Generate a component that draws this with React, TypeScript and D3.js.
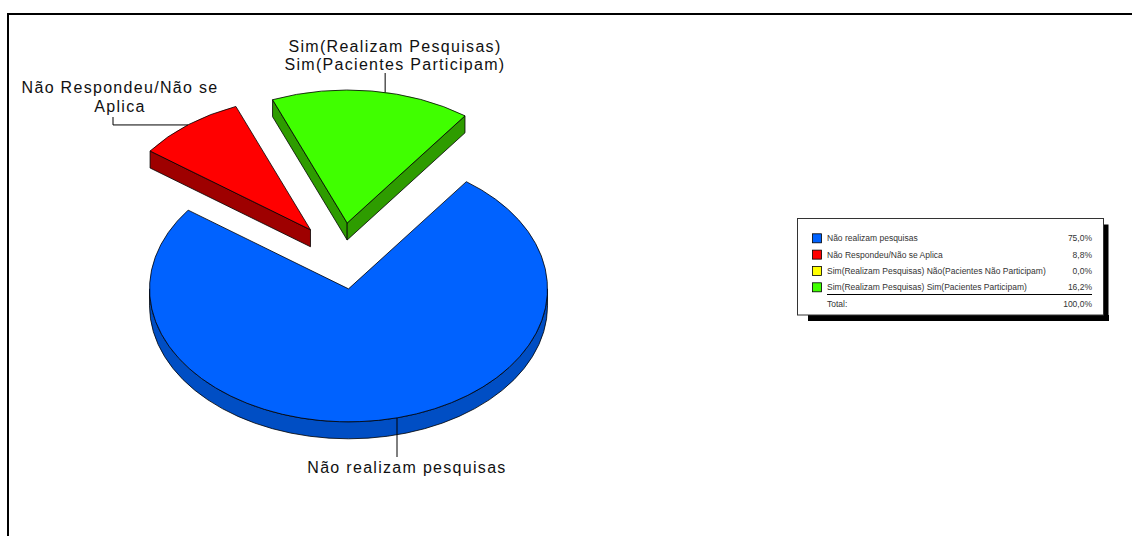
import React from 'react';
import * as d3 from 'd3';

const categories = [
  "Não realizam pesquisas",
  "Não Respondeu/Não se Aplica",
  "Sim(Realizam Pesquisas) Não(Pacientes Não Participam)",
  "Sim(Realizam Pesquisas) Sim(Pacientes Participam)"
];
const values = [75.0, 8.8, 0.0, 16.2];
const totalLabel = "Total:";
const topColors = ["#0062ff", "#ff0000", "#ffff00", "#40ff00"];
const sideColors = ["#004ec4", "#9e0000", "#a8a800", "#2e9c00"];
const explode = [0.25, 0.25, 0.25, 0.25];

// pie label text (lines) and leader hints
const pieLabels = [
  ["Não realizam pesquisas"],
  ["Não Respondeu/Não se", "Aplica"],
  [],
  ["Sim(Realizam Pesquisas)", "Sim(Pacientes Participam)"]
];
const labelPos = [[407, 473], [120, 93], [0, 0], [395, 51.5]];
const leaderAngle = [75.9, 232, 0, 281];
const leaderElbowX = [null, 113, null, null];
const leaderEndY = [457, 117, 0, 73];

const W = 1132, H = 536;
const cx = 341, cy = 256, rx = 199, ry = 133, depth = 17;
const rad = Math.PI / 180;

const ptFmt = d3.formatLocale({ decimal: ",", thousands: ".", grouping: [3], currency: ["", ""] }).format(".1f");

function P(ox: number, oy: number, t: number, dz = 0): [number, number] {
  return [ox + rx * Math.cos(t), oy + ry * Math.sin(t) + dz];
}
const f = (p: [number, number]) => `${p[0].toFixed(2)},${p[1].toFixed(2)}`;

const App = () => {
  const pie = d3.pie<number>().sort(null).value(d => d)
    .startAngle(36.3 * rad).endAngle(36.3 * rad + 2 * Math.PI);
  const arcs = pie(values);

  const slices = arcs.map((a, i) => {
    const t0 = a.startAngle - Math.PI / 2;
    const t1 = a.endAngle - Math.PI / 2;
    const tm = (t0 + t1) / 2;
    const ox = cx + explode[i] * rx * Math.cos(tm);
    const oy = cy + explode[i] * ry * Math.sin(tm);
    return { i, t0, t1, ox, oy, empty: a.endAngle - a.startAngle < 1e-6 };
  }).filter(s => !s.empty);

  // back to front
  const ordered = [...slices].sort((a, b) => a.oy - b.oy);

  const shapes: JSX.Element[] = [];
  ordered.forEach(s => {
    const { i, t0, t1, ox, oy } = s;
    const c: [number, number] = [ox, oy];
    const cb: [number, number] = [ox, oy + depth];
    const faces: string[] = [];
    if (Math.cos(t0) < 0) {
      faces.push(`M${f(c)}L${f(P(ox, oy, t0))}L${f(P(ox, oy, t0, depth))}L${f(cb)}Z`);
    }
    if (Math.cos(t1) > 0) {
      faces.push(`M${f(c)}L${f(P(ox, oy, t1))}L${f(P(ox, oy, t1, depth))}L${f(cb)}Z`);
    }
    for (let k = -1; k <= 2; k++) {
      const lo = Math.max(t0, 2 * Math.PI * k);
      const hi = Math.min(t1, 2 * Math.PI * k + Math.PI);
      if (hi > lo + 1e-6) {
        const large = hi - lo > Math.PI ? 1 : 0;
        faces.push(
          `M${f(P(ox, oy, lo))}A${rx},${ry} 0 ${large} 1 ${f(P(ox, oy, hi))}` +
          `L${f(P(ox, oy, hi, depth))}A${rx},${ry} 0 ${large} 0 ${f(P(ox, oy, lo, depth))}Z`
        );
      }
    }
    faces.forEach((d, j) => shapes.push(
      <path key={`s${i}-${j}`} d={d} fill={sideColors[i]} stroke="#000" strokeWidth={0.8} strokeLinejoin="round" />
    ));
    const large = t1 - t0 > Math.PI ? 1 : 0;
    shapes.push(
      <path key={`t${i}`}
        d={`M${f(c)}L${f(P(ox, oy, t0))}A${rx},${ry} 0 ${large} 1 ${f(P(ox, oy, t1))}Z`}
        fill={topColors[i]} stroke="#000" strokeWidth={0.8} strokeLinejoin="round" />
    );
  });

  const leaders = slices.map(s => {
    const i = s.i;
    const a = P(s.ox, s.oy, leaderAngle[i] * rad);
    const ex = leaderElbowX[i] ?? a[0];
    return <path key={`l${i}`} d={`M${f(a)}L${ex},${a[1]}L${ex},${leaderEndY[i]}`} fill="none" stroke="#000" strokeWidth={1} />;
  });

  const labels = slices.map(s => {
    const i = s.i;
    return (
      <text key={`lb${i}`} x={labelPos[i][0]} y={labelPos[i][1]} textAnchor="middle"
        fontSize={16} letterSpacing={1.3} fill="#111">
        {pieLabels[i].map((ln, j) => (
          <tspan key={j} x={labelPos[i][0]} dy={j === 0 ? 0 : 18.5}>{ln}</tspan>
        ))}
      </text>
    );
  });

  // legend
  const lx = 797.5, ly = 218.5, lw = 306, lh = 96.5;
  const rowY = d3.scalePoint<string>().domain(categories).range([238.3, 287.3]);
  const total = d3.sum(values);

  return (
    <svg width={W} height={H} style={{ position: 'absolute', left: 0, top: 0, background: '#fff' }}
      fontFamily="'Liberation Sans', Arial, sans-serif">
      <rect x={8} y={14} width={W + 100} height={H + 100} fill="none" stroke="#000" strokeWidth={2} />
      <g>{shapes}</g>
      <g>{leaders}</g>
      <g>{labels}</g>
      <g>
        <rect x={808} y={lh + ly} width={lw - 5} height={6} fill="#000" />
        <rect x={lx + lw} y={ly + 6} width={5} height={lh} fill="#000" />
        <rect x={lx} y={ly} width={lw} height={lh} fill="#fff" stroke="#333" strokeWidth={1} />
        {categories.map((c, i) => {
          const y = rowY(c)!;
          return (
            <g key={c}>
              <rect x={812.5} y={y - 4.5} width={9} height={9} fill={topColors[i]} stroke="#000" strokeWidth={0.8} />
              <text x={827} y={y + 3} fontSize={8.5} fill="#333">{c}</text>
              <text x={1092} y={y + 3} fontSize={8.5} fill="#333" textAnchor="end">{ptFmt(values[i])}%</text>
            </g>
          );
        })}
        <line x1={827} x2={1092} y1={294.5} y2={294.5} stroke="#000" strokeWidth={1.2} />
        <text x={827} y={307} fontSize={8.5} fill="#333">{totalLabel}</text>
        <text x={1092} y={307} fontSize={8.5} fill="#333" textAnchor="end">{ptFmt(total)}%</text>
      </g>
    </svg>
  );
};

export default App;
